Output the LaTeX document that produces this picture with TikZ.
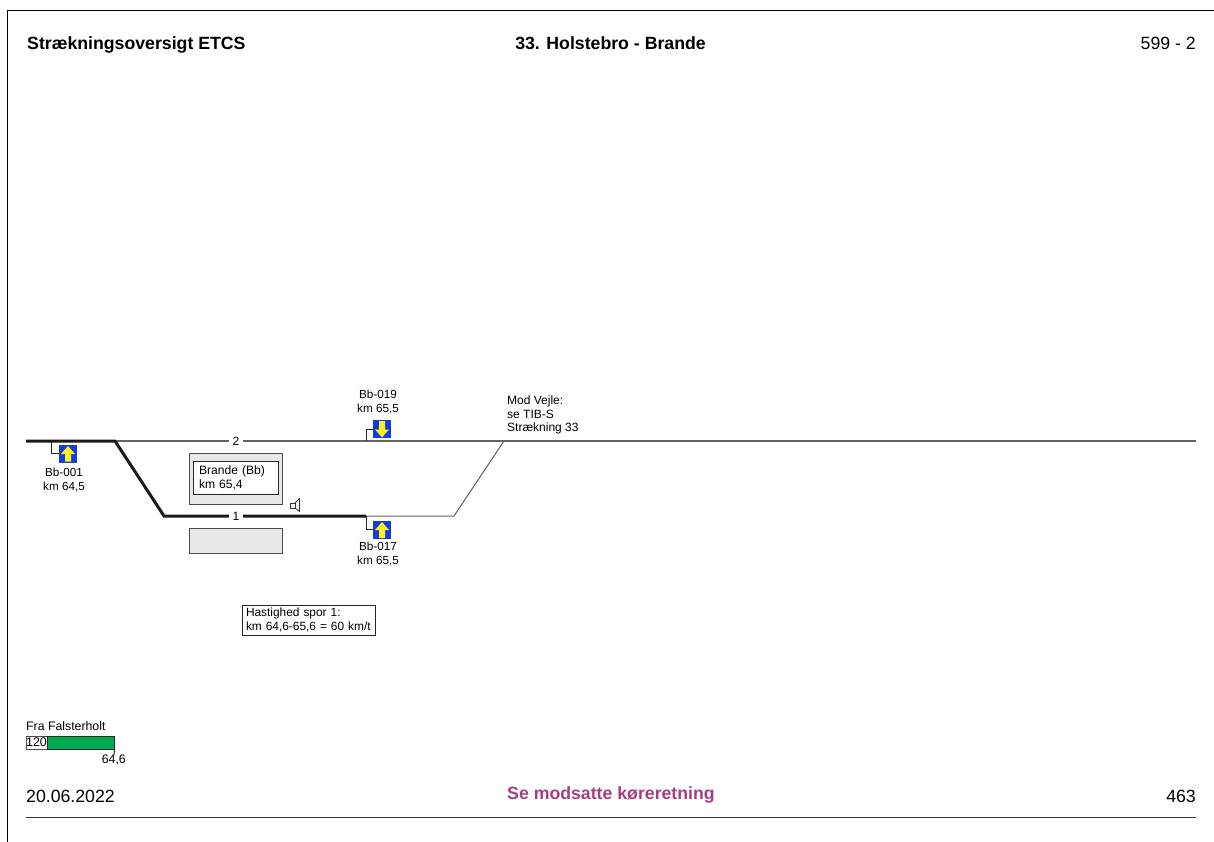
\documentclass[tikz,border=0pt]{standalone}
\usepackage{fontspec}
\setmainfont{Liberation Sans}
\definecolor{signblue}{RGB}{20,60,220}
\definecolor{signyellow}{RGB}{255,240,30}
\definecolor{legendgreen}{RGB}{0,170,80}
\definecolor{pinktext}{RGB}{170,60,130}
\definecolor{panelgray}{RGB}{232,232,232}
\definecolor{trackgray}{RGB}{100,100,100}
\tikzset{
  thintrack/.style={draw=trackgray,line width=1.2pt},
  thicktrack/.style={draw=black!90,line width=3pt,line join=miter},
  small/.style={font=\fontsize{11.7}{13.3}\selectfont,inner sep=0pt,align=center,text=black},
  smallleft/.style={small,align=left,anchor=north west},
  headb/.style={font=\fontsize{17.7}{20}\bfseries\selectfont,inner sep=0pt},
  headr/.style={font=\fontsize{17.7}{20}\selectfont,inner sep=0pt},
  tracklabel/.style={font=\fontsize{12}{14}\selectfont,fill=white,inner xsep=4pt,inner ysep=1pt},
  panel/.style={draw=black!70,fill=panelgray,line width=1pt},
  whitebox/.style={draw=black!85,fill=white,line width=1pt,inner ysep=0pt,align=left,font=\fontsize{12.1}{14}\selectfont},
  signbox/.style={draw=none,fill=signblue,minimum width=18pt,minimum height=18pt,inner sep=0pt},
  arrowup/.style={fill=signyellow,draw=none},
  leadline/.style={draw=black!85,line width=1pt},
}
\begin{document}
\begin{tikzpicture}[x=1pt,y=-1pt]
\useasboundingbox (0,0) rectangle (1214,842);
% frame
\draw[black,line width=1pt] (7.5,842) -- (7.5,10.5) -- (1214,10.5);
% headings
\node[headb,anchor=base west] (title) at (27,49.5) {Strækningsoversigt ETCS};
\node[headb,anchor=base] (route) at (610.5,49.5) {33. Holstebro - Brande};
\node[headr,anchor=base east] (page) at (1196,50) {599 - 2};
% track coordinates
\coordinate (tl) at (26,441);
\coordinate (tr) at (1196,441);
\coordinate (sw1) at (115,441);
\coordinate (sw2) at (164,516);
\coordinate (sig1) at (366,516);
\coordinate (sw3) at (454,516);
\coordinate (sw4) at (504,441);
\coordinate (sig2) at (366,441);
\coordinate (sig3) at (51,441);
% thin tracks
\draw[thintrack] (tl) -- (tr);
\draw[draw=trackgray,line width=1pt] (sig1) -- (sw3) -- (sw4);
% thick route
\draw[thicktrack] (tl) -- (sw1) -- (sw2) -- (sig1);
% track numbers
\node[tracklabel] (n2) at (236,441) {2};
\node[tracklabel] (n1) at (236,516) {1};
% platforms
\node[panel,minimum width=93pt,minimum height=51pt,inner sep=0pt] (plat1) at (235.5,478.5) {};
\node[whitebox,text width=73pt,inner xsep=6pt,minimum height=33pt] (station) at (235.5,477.5) {Brande (Bb)\\km 65,4};
\node[panel,minimum width=93pt,minimum height=25pt,inner sep=0pt] (plat2) at (235.5,540.5) {};
% speaker
\draw[black!80,line width=.8pt] (290.5,503) rectangle (295,508);
\draw[black!80,line width=.8pt] (295,503) -- (299.5,498.5) -- (299.5,511.5) -- (295,508);
% signs
\node[signbox] (s001) at (68,453.5) {};
\fill[arrowup] (68,446) -- (75,454) -- (71,454) -- (71,461.5) -- (65,461.5) -- (65,454) -- (61,454) -- cycle;
\draw[leadline] (sig3) |- (s001.west);
\node[signbox] (s019) at (382,429) {};
\fill[arrowup] (382,437.5) -- (389,429.5) -- (385,429.5) -- (385,421) -- (379,421) -- (379,429.5) -- (375,429.5) -- cycle;
\draw[leadline] (sig2) |- (s019.west);
\node[signbox] (s017) at (382,529.5) {};
\fill[arrowup] (382,522) -- (389,530) -- (385,530) -- (385,538) -- (379,538) -- (379,530) -- (375,530) -- cycle;
\draw[leadline] (sig1) |- (s017.west);
% sign labels
\node[small] (l001) at (64,480) {Bb-001\\km 64,5};
\node[small] (l019) at (378,402) {Bb-019\\km 65,5};
\node[small] (l017) at (378,554) {Bb-017\\km 65,5};
\node[smallleft,font=\fontsize{12}{13.3}\selectfont] (mod) at (507,396) {Mod Vejle:\\se TIB-S\\Strækning 33};
% speed box
\node[whitebox,text width=125pt,inner xsep=4pt,minimum height=30pt,font=\fontsize{11.9}{14}\selectfont] (speed) at (308.5,620) {Hastighed spor 1:\\\mbox{km 64,6-65,6 = 60 km/t}};
% legend
\node[small,anchor=base west,font=\fontsize{12.3}{14}\selectfont] (fra) at (26,730) {Fra Falsterholt};
\node[draw=black!70,fill=white,line width=1pt,minimum width=21pt,minimum height=13pt,inner sep=0pt,font=\fontsize{12.5}{14}\selectfont] (v120) at (36.5,742.5) {120};
\node[draw=black!85,fill=legendgreen,line width=1pt,minimum width=67pt,minimum height=13pt,inner sep=0pt] (bar) at (80.5,742.5) {};
\coordinate (tick) at (114,755);
\draw[leadline] (bar.south east) -- (tick);
\node[small,anchor=base east,font=\fontsize{12.3}{14}\selectfont] (km) at (126,763) {64,6};
% footer
\node[headr,anchor=base west] (date) at (26,802) {20.06.2022};
\node[headb,anchor=base,text=pinktext] (see) at (611,799) {Se modsatte køreretning};
\node[headr,anchor=base east] (pg) at (1196,802) {463};
\coordinate (fl) at (26,817.5);
\coordinate (fr) at (1196,817.5);
\draw[black!80,line width=1pt] (fl) -- (fr);
\end{tikzpicture}
\end{document}
